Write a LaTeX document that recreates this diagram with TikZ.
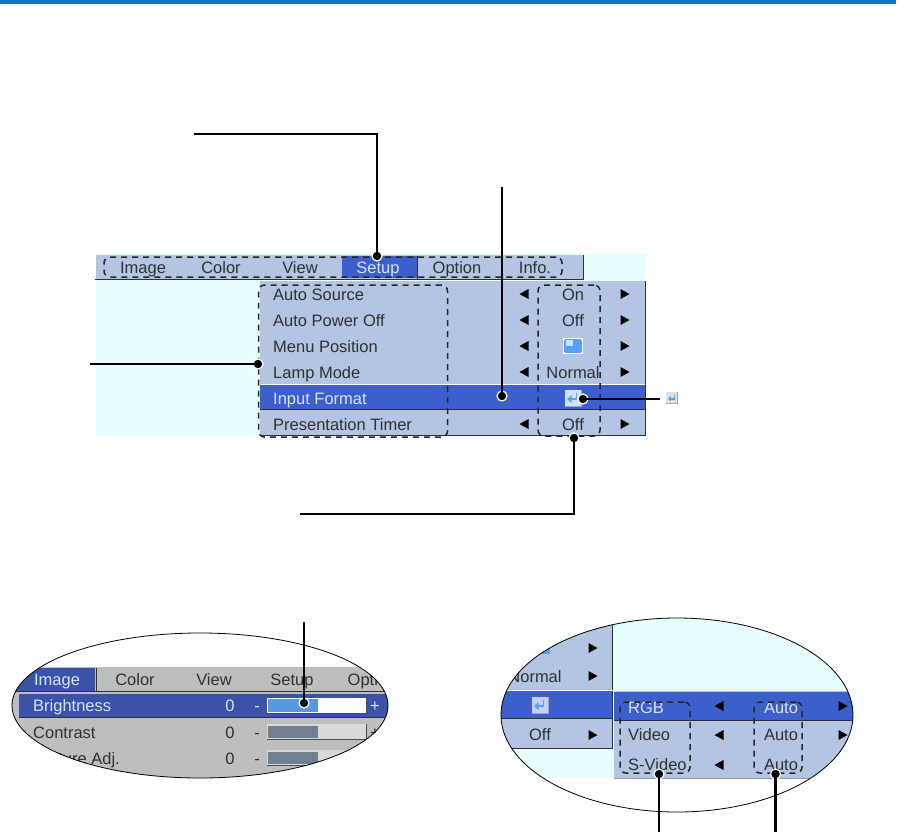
\documentclass[tikz,border=0pt]{standalone}
\usepackage{fontspec}
\setmainfont{Liberation Sans}
\definecolor{panel}{HTML}{B3C5E3}
\definecolor{selblue}{HTML}{3D5FCB}
\definecolor{skycyan}{HTML}{E8FFFF}
\definecolor{topblue}{HTML}{1573C4}
\definecolor{greybg}{HTML}{BEBEBE}
\definecolor{deepblue}{HTML}{3A53A8}
\definecolor{barblue}{HTML}{5599DD}
\definecolor{bardark}{HTML}{708090}
\definecolor{inkdark}{HTML}{303030}
\definecolor{seltext}{HTML}{D5E3FF}
\definecolor{iconblue}{HTML}{55A0FF}
\newcommand\ArrL[2]{\fill[black] (#1-4.5,#2) -- (#1+4.5,#2-5) -- (#1+4.5,#2+5) -- cycle;}
\newcommand\ArrR[2]{\fill[black] (#1+4.5,#2) -- (#1-4.5,#2-5) -- (#1-4.5,#2+5) -- cycle;}
\newcommand\EntIc[4]{\begin{scope}[shift={(#1,#2)},scale=#3]
  \fill[black!35] (-8,-8) rectangle (8.5,8.5);
  \fill[#4] (-8,-8) rectangle (7.5,7.5);
  \draw[iconblue,line width=1.8pt] (3.5,-5) -- (3.5,1) -- (-3,1);
  \fill[iconblue] (-6,1) -- (-1.5,-3) -- (-1.5,5) -- cycle;
\end{scope}}
\tikzset{
  x=1pt,y=-1pt,
  menutxt/.style={font=\fontsize{16.5}{18}\selectfont,text=inkdark,inner sep=0pt,anchor=base},
  leftmenu/.style={menutxt,anchor=base west},
  seltxt/.style={text=seltext},
  leader/.style={draw=black,line width=2.2pt},
  dot/.style={circle,fill=black,draw=white,line width=1.2pt,minimum size=10pt,inner sep=0pt},
  dashbox/.style={draw=black!85,line width=1.5pt,dash pattern=on 6pt off 5pt,rounded corners=6pt},
  thinrule/.style={line width=1pt,draw=inkdark},
}
\begin{document}
\begin{tikzpicture}
\useasboundingbox (0,0) rectangle (915,833);
\fill[topblue] (0,0) rectangle (896,4);

% main menu
\fill[skycyan] (96,254) rectangle (646,436);
\fill[panel] (96,255) rectangle (583,279);
\fill[panel] (260,281) rectangle (646,436);
\fill[selblue] (342,256) rectangle (417,278);
\draw[thinrule] (417.5,256) -- (417.5,279);
\draw[thinrule] (583.5,255) -- (583.5,279);
\draw[thinrule] (95,279.5) -- (584,279.5);
\draw[white] (260,384.5) -- (646,384.5);
\fill[selblue] (260,385) rectangle (646,409);
\draw[thinrule] (260,409.5) -- (646,409.5);
\draw[thinrule] (645.5,281) -- (645.5,435.5) -- (260,435.5);

\node[menutxt] (tabimage) at (143,273.5) {Image};
\node[menutxt] (tabcolor) at (221,273.5) {Color};
\node[menutxt] (tabview) at (300,273.5) {View};
\node[menutxt,seltxt] (tabsetup) at (378,273.5) {Setup};
\node[menutxt] (taboption) at (457,273.5) {Option};
\node[menutxt] (tabinfo) at (535,273.5) {Info.};

\node[leftmenu] (ro1) at (273,300) {Auto Source};
\node[leftmenu] (ro2) at (273,326) {Auto Power Off};
\node[leftmenu] (ro3) at (273,352) {Menu Position};
\node[leftmenu] (ro4) at (273,378) {Lamp Mode};
\node[leftmenu,seltxt] (ro5) at (273,404) {Input Format};
\node[leftmenu] (ro6) at (273,430) {Presentation Timer};

\node[menutxt] (va1) at (573,300) {On};
\node[menutxt] (va2) at (573,326) {Off};
\node[menutxt] (va4) at (573,378) {Normal};
\node[menutxt] (va6) at (573,430) {Off};
\fill[white] (563,338) rectangle (583,354);
\fill[iconblue,rounded corners=2pt] (564,339) rectangle (582,353);
\fill[white!70!iconblue] (566,340) rectangle (573,346);
\EntIc{573}{398}{1}{white!70!iconblue}
\foreach \yy in {294,320,346,372,424} {\ArrL{524}{\yy}\ArrR{625}{\yy}}

\node[inner sep=0pt,minimum width=458pt,minimum height=20pt,dashbox] (boxtabs) at (333,267) {};
\node[inner sep=0pt,minimum width=189pt,minimum height=152pt,dashbox] (boxlist) at (353,361) {};
\node[inner sep=0pt,minimum width=62pt,minimum height=151pt,dashbox] (boxvals) at (569,360.5) {};

% free-standing key icon
\EntIc{672}{398}{0.7}{black!12}

% left ellipse
\begin{scope}
\clip (200,705.5) ellipse [x radius=188, y radius=72.5];
\fill[white] (0,620) rectangle (400,790);
\fill[greybg] (0,667) rectangle (400,790);
\fill[deepblue] (0,668) rectangle (95,691);
\draw[thinrule] (96,668) -- (96,691);
\draw[thinrule] (0,691) -- (400,691);
\fill[deepblue] (19,694) rectangle (400,717);
\draw[thinrule] (19,717.5) -- (400,717.5);
\node[menutxt,seltxt] (limage) at (57,685.5) {Image};
\node[menutxt] (lcolor) at (135,685.5) {Color};
\node[menutxt] (lview) at (214,685.5) {View};
\node[menutxt] (lsetup) at (292,685.5) {Setup};
\node[menutxt] (loption) at (372,685.5) {Option};
\node[leftmenu,seltxt] (lb) at (33,711.5) {Brightness};
\node[leftmenu] (lc) at (33,738) {Contrast};
\node[menutxt,anchor=base east] (lp) at (120,764) {Picture Adj.};
\node[menutxt,seltxt] (n1) at (230,711.5) {0};
\node[menutxt] (n2) at (230,738) {0};
\node[menutxt] (n3) at (230,764) {0};
\node[menutxt,seltxt] (m1) at (257,711.5) {-};
\node[menutxt] (m2) at (257,738) {-};
\node[menutxt] (m3) at (257,764) {-};
\node[menutxt,seltxt] (p1) at (375,711.5) {+};
\node[menutxt] (p2) at (375,738) {+};
\fill[white] (267,698) rectangle (366,713);
\fill[barblue] (268,699) rectangle (318,712);
\draw[black!70] (267,713.5) -- (366.5,713.5) -- (366.5,698);
\foreach \yy in {724,750} {
  \fill[white!85!black] (267,\yy) rectangle (366,\yy+15);
  \fill[bardark] (268,\yy+1.5) rectangle (318,\yy+14);
  \draw[black!70] (267,\yy+15.5) -- (366.5,\yy+15.5) -- (366.5,\yy);
}
\end{scope}
\draw[black,line width=0.8pt] (200,705.5) ellipse [x radius=188, y radius=72.5];

% right ellipse
\begin{scope}
\clip (677,715) ellipse [x radius=176, y radius=97];
\fill[skycyan] (495,610) rectangle (860,778);
\fill[panel] (495,610) rectangle (612,748);
\draw[thinrule] (612.5,610) -- (612.5,748) -- (495,748);
\draw[white] (495,690.5) -- (860,690.5);
\fill[selblue] (495,691) rectangle (612,718);
\draw[thinrule] (495,718.5) -- (612,718.5);
\fill[panel] (614,691) rectangle (860,778);
\fill[selblue] (614,692) rectangle (860,719.5);
\draw[thinrule] (614,720) -- (860,720);
\draw[black!40] (614,778) -- (860,778);
\fill[iconblue] (536,646) rectangle (550,654);
\node[menutxt] (rnorm) at (535,682) {Normal};
\node[menutxt] (roff) at (540,740.5) {Off};
\EntIc{540}{705}{1}{white!70!selblue}
\ArrR{593}{648}\ArrR{593}{676}\ArrR{593}{735}
\node[leftmenu,seltxt] (rrgb) at (628,713) {RGB};
\node[leftmenu] (rvid) at (628,740.5) {Video};
\node[leftmenu] (rsvid) at (628,770.5) {S-Video};
\node[menutxt,seltxt] (ra1) at (781,713) {Auto};
\node[menutxt] (ra2) at (781,740.5) {Auto};
\node[menutxt] (ra3) at (781,770.5) {Auto};
\foreach \yy in {706,735,765} {\ArrL{719}{\yy}}
\foreach \yy in {706,735} {\ArrR{843}{\yy}}
\end{scope}
\draw[black,line width=0.8pt] (677,715) ellipse [x radius=176, y radius=97];
\node[inner sep=0pt,minimum width=70pt,minimum height=71pt,dashbox] (boxsrc) at (655,737.5) {};
\node[inner sep=0pt,minimum width=48pt,minimum height=71pt,dashbox] (boxauto) at (778,737.5) {};

% dots
\node[dot] (dsetup) at (377,256) {};
\node[dot] (dinput) at (502,396) {};
\node[dot] (dlist) at (258,364) {};
\node[dot] (dkey) at (583,399) {};
\node[dot] (dval) at (574,438) {};
\node[dot] (dbar) at (304,703) {};
\node[dot] (dsrc) at (659,774) {};
\node[dot] (dauto) at (775.5,774) {};

% free ends
\coordinate (a1) at (194,134);
\coordinate (a2) at (377,134);
\coordinate (b1) at (502,187);
\coordinate (c1) at (90,364);
\coordinate (e1) at (660,399);
\coordinate (f1) at (574,514);
\coordinate (f2) at (300,514);
\coordinate (g1) at (304,622);
\coordinate (h1) at (659,832);
\coordinate (i1) at (775.5,832);

\draw[leader] (a1) -- (a2) -- (dsetup.center);
\draw[leader] (b1) -- (dinput.center);
\draw[leader] (c1) -- (dlist.center);
\draw[leader] (e1) -- (dkey.center);
\draw[leader] (f2) -- (f1) -- (dval.center);
\draw[leader] (g1) -- (dbar.center);
\draw[leader] (h1) -- (dsrc.center);
\draw[leader] (i1) -- (dauto.center);
\end{tikzpicture}
\end{document}
